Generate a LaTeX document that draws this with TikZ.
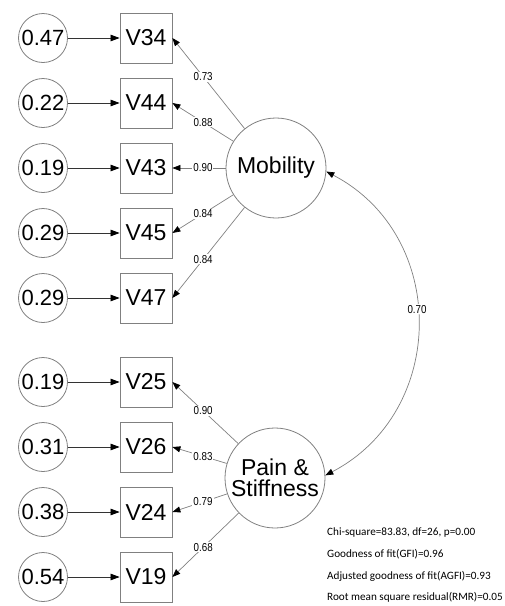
\documentclass[tikz,border=0pt]{standalone}
\usepackage{fontspec}
\setmainfont{Liberation Sans}
\newfontfamily\narrowfont{Liberation Sans}[FakeStretch=0.85]
\newfontfamily\statfont{Carlito}
\usetikzlibrary{arrows.meta}
\definecolor{linegray}{HTML}{808080}
\begin{document}
\begin{tikzpicture}[x=1pt,y=-1pt,
  errnode/.style={circle,draw=linegray,line width=0.8pt,minimum size=49pt,inner sep=0pt,font=\fontsize{22}{24}\selectfont},
  obsnode/.style={rectangle,draw=linegray,line width=0.8pt,minimum width=52pt,minimum height=50pt,inner sep=0pt,font=\fontsize{23}{25}\selectfont},
  latnode/.style={circle,draw=linegray,line width=0.8pt,minimum size=100pt,inner sep=0pt,align=center,font=\fontsize{23}{21}\selectfont},
  errarrow/.style={draw=black!80,line width=0.7pt,-{Triangle[length=9pt,width=6.5pt,color=black]}},
  loadarrow/.style={draw=linegray,line width=0.7pt,-{Triangle[length=8pt,width=6pt,color=black]}},
  covarrow/.style={draw=linegray,line width=0.7pt,{Triangle[length=8pt,width=6pt,color=black]}-{Triangle[length=8pt,width=6pt,color=black]}},
  coef/.style={fill=white,inner sep=1pt,font=\narrowfont\fontsize{11.5}{12}\selectfont},
  stat/.style={anchor=base west,inner sep=0pt,font=\statfont\fontsize{11.2}{12}\selectfont}
]
\useasboundingbox (0,0) rectangle (505,606);

% upper group
\node[errnode] (e34) at (43,38) {0.47};
\node[errnode] (e44) at (43,103) {0.22};
\node[errnode] (e43) at (43,168) {0.19};
\node[errnode] (e45) at (43,233) {0.29};
\node[errnode] (e47) at (43,298) {0.29};
\node[obsnode] (v34) at (146,38) {V34};
\node[obsnode] (v44) at (146,103) {V44};
\node[obsnode] (v43) at (146,168) {V43};
\node[obsnode] (v45) at (146,233) {V45};
\node[obsnode] (v47) at (146,298) {V47};

% lower group
\node[errnode] (e25) at (43,382) {0.19};
\node[errnode] (e26) at (43,447) {0.31};
\node[errnode] (e24) at (43,512) {0.38};
\node[errnode] (e19) at (43,577) {0.54};
\node[obsnode] (v25) at (146,382) {V25};
\node[obsnode] (v26) at (146,447) {V26};
\node[obsnode] (v24) at (146,512) {V24};
\node[obsnode] (v19) at (146,577) {V19};

% latent variables
\node[latnode] (mob) at (276,168) {Mobility};
\node[latnode] (pain) at (275,478) {Pain \&\\Stiffness};

% error arrows
\foreach \v in {34,44,43,45,47,25,26,24,19}
  \draw[errarrow] (e\v) -- (v\v);

% loadings
\draw[loadarrow] (mob) -- node[coef,pos=0.574]{0.73} (v34.east);
\draw[loadarrow] (mob) -- node[coef,pos=0.497]{0.88} (v44.east);
\draw[loadarrow] (mob) -- node[coef,pos=0.426]{0.90} (v43.east);
\draw[loadarrow] (mob) -- node[coef,pos=0.497]{0.84} (v45.east);
\draw[loadarrow] (mob) -- node[coef,pos=0.574]{0.84} (v47.east);
\draw[loadarrow] (pain) -- node[coef,pos=0.533]{0.90} (v25.east);
\draw[loadarrow] (pain) -- node[coef,pos=0.438]{0.83} (v26.east);
\draw[loadarrow] (pain) -- node[coef,pos=0.441]{0.79} (v24.east);
\draw[loadarrow] (pain) -- node[coef,pos=0.536]{0.68} (v19.east);

% covariance
\draw[covarrow] (mob.-4) .. controls +(122.4,63.8) and +(122.4,-63.8) .. node[coef,pos=0.46]{0.70} (pain.3);

% fit statistics
\node[stat] (s1) at (327,535) {Chi-square=83.83, df=26, p=0.00};
\node[stat] (s2) at (327,557) {Goodness of fit(GFI)=0.96};
\node[stat] (s3) at (327,579) {Adjusted goodness of fit(AGFI)=0.93};
\node[stat] (s4) at (327,600) {Root mean square residual(RMR)=0.05};
\end{tikzpicture}
\end{document}
